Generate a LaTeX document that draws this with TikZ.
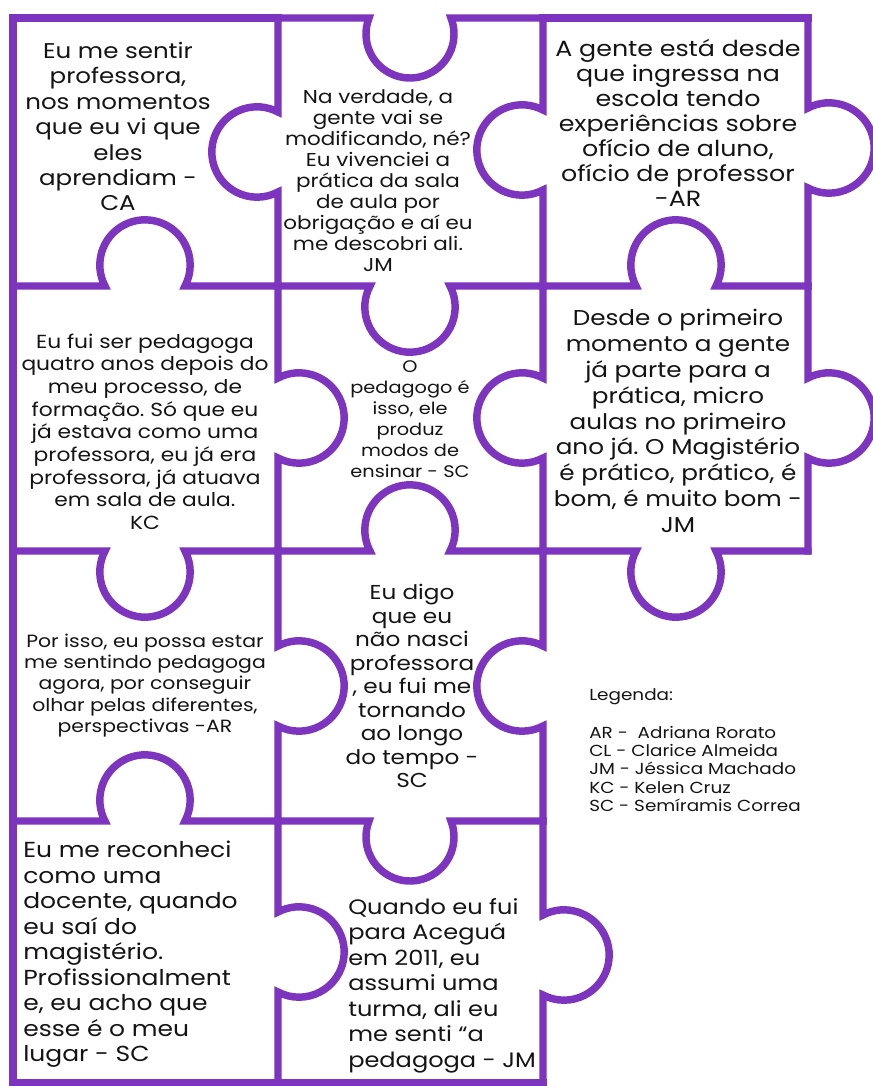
\documentclass[tikz,border=0pt]{standalone}
\usepackage{fontspec}
\setmainfont[FakeStretch=1.15]{Poppins}
\frenchspacing
\definecolor{puzzle}{RGB}{125,52,190}
\definecolor{ink}{RGB}{20,20,20}

% knob geometry: neck half-width h, centre offset d from the edge
\newcommand\setknob[2]{%
  \def\kh{#1}%
  \pgfmathsetmacro\kr{sqrt(#1*#1+#2*#2)}%
  \pgfmathsetmacro\kal{atan(#2/#1)}%
  \pgfmathsetmacro\kbe{90-\kal}}
% horizontal edge: x from, x to, y, knob centre x, direction (1 down, -1 up)
\newcommand\hknob[5]{%
  \pgfmathsetmacro\ka{(#5>0) ? 180+\kal : 180-\kal}%
  \pgfmathsetmacro\kb{(#5>0) ? -\kal : 360+\kal}%
  \draw[edge] (#1,#3) -- ({#4-\kh},#3) arc[start angle=\ka, end angle=\kb, radius=\kr] -- (#2,#3);}
% vertical edge: y from, y to, x, knob centre y, direction (1 right, -1 left)
\newcommand\vknob[5]{%
  \pgfmathsetmacro\ka{(#5>0) ? 180+\kbe : -\kbe}%
  \pgfmathsetmacro\kb{(#5>0) ? 540-\kbe : \kbe-360}%
  \draw[edge] (#3,#1) -- (#3,{#4-\kh}) arc[start angle=\ka, end angle=\kb, radius=\kr] -- (#3,#2);}
\newcommand\fsz[2]{\fontsize{#1}{#2}\selectfont}

\tikzset{
  edge/.style={draw=puzzle, line width=5.6pt, line join=miter, line cap=rect},
  quote/.style={align=center, inner sep=0pt, text=ink},
  quoteleft/.style={align=left, inner sep=0pt, text=ink, anchor=west}
}

\begin{document}
\begin{tikzpicture}[x=0.75pt,y=-0.75pt]
\useasboundingbox (0,0) rectangle (873,1086);
\clip (0,0) rectangle (873,1086);

% piece outlines
\setknob{40}{21}
\draw[edge] (13,18) -- (278,18);
\draw[edge] (543,18) -- (808,18);
\hknob{13}{278}{286}{145}{-1}
\hknob{278}{543}{286}{410}{1}
\hknob{543}{808}{286}{676}{-1}
\hknob{13}{278}{551}{145}{1}
\hknob{278}{543}{551}{410}{-1}
\hknob{543}{808}{551}{676}{1}
\hknob{13}{278}{821}{145}{-1}
\draw[edge] (13,1083) -- (543,1083);
\draw[edge] (13,18) -- (13,1083);
\vknob{18}{286}{278}{152}{-1}
\vknob{286}{551}{278}{418}{1}
\vknob{551}{821}{278}{686}{1}
\vknob{821}{1083}{278}{952}{1}
\vknob{18}{286}{543}{150}{-1}
\vknob{286}{551}{543}{418}{-1}
\vknob{551}{821}{543}{686}{-1}
\vknob{821}{1083}{543}{955}{1}
\vknob{18}{286}{808}{148}{1}
\vknob{286}{551}{808}{418}{1}
\setknob{41}{16}
\hknob{278}{543}{18}{410}{1}
\hknob{278}{543}{821}{410}{1}

% quotes
\node[quote, font={\fsz{16pt}{19.1pt}}] (q11) at (118,126.5)
  {Eu me sentir\\professora,\\nos momentos\\que eu vi que\\eles\\aprendiam -\\CA};
\node[quote, font={\fsz{14pt}{15.75pt}}] (q12) at (378,181)
  {Na verdade, a\\gente vai se\\modificando, né?\\Eu vivenciei a\\prática da sala\\de aula por\\obrigação e aí eu\\me descobri ali.\\JM};
\node[quote, font={\fsz{16.5pt}{18.75pt}}] (q13) at (678,122.5)
  {A gente está desde\\que ingressa na\\escola tendo\\experiências sobre\\ofício de aluno,\\ofício de professor\\-AR};
\node[quote, font={\fsz{14.2pt}{17pt}}] (q21) at (145,431.5)
  {Eu fui ser pedagoga\\quatro anos depois do\\meu processo, de\\formação. Só que eu\\já estava como uma\\professora, eu já era\\professora, já atuava\\em sala de aula.\\KC};
\node[quote, font={\fsz{12.6pt}{15.75pt}}] (q22) at (410,419.5)
  {O\\pedagogo é\\isso, ele\\produz\\modos de\\ensinar - SC};
\node[quote, font={\fsz{16.1pt}{19.4pt}}] (q23) at (678,421)
  {Desde o primeiro\\momento a gente\\já parte para a\\prática, micro\\aulas no primeiro\\ano já. O Magistério\\é prático, prático, é\\bom, é muito bom -\\JM};
\node[quote, font={\fsz{13.3pt}{16.1pt}}] (q31) at (145,685.5)
  {Por isso, eu possa estar\\me sentindo pedagoga\\agora, por conseguir\\olhar pelas diferentes,\\perspectivas -AR};
\node[quote, font={\fsz{15.1pt}{17.6pt}}] (q32) at (412,686)
  {Eu digo\\que eu\\não nasci\\professora\\, eu fui me\\tornando\\ao longo\\do tempo -\\SC};
\node[quoteleft, font={\fsz{16.3pt}{19.1pt}}] (q41) at (23,954.5)
  {Eu me reconheci\\como uma\\docente, quando\\eu saí do\\magistério.\\Profissionalment\\e, eu acho que\\esse é o meu\\lugar - SC};
\node[quoteleft, font={\fsz{15.7pt}{19.1pt}}] (q42) at (348,985.5)
  {Quando eu fui\\para Aceguá\\em 2011, eu\\assumi uma\\turma, ali eu\\me senti “a\\pedagoga - JM};

% legend
\node[quoteleft, anchor=north west, font={\fsz{12pt}{13.7pt}}] (legend) at (589,688)
  {Legenda:\\[15pt]AR -\ \ Adriana Rorato\\CL - Clarice Almeida\\JM - Jéssica Machado\\KC - Kelen Cruz\\SC - Semíramis Correa};
\end{tikzpicture}
\end{document}
